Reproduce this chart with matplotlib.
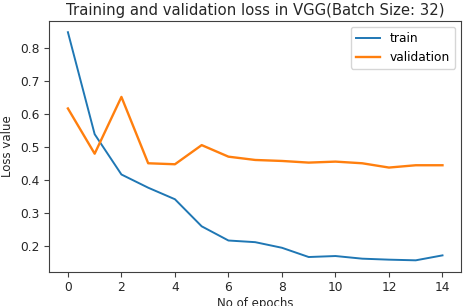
import matplotlib
matplotlib.use("Agg")
import matplotlib.pyplot as plt

epochs = list(range(15))
train_loss = [0.848, 0.539, 0.417, 0.377, 0.342, 0.260, 0.217, 0.212, 0.195,
              0.167, 0.170, 0.162, 0.159, 0.157, 0.172]
val_loss = [0.617, 0.480, 0.652, 0.451, 0.448, 0.506, 0.471, 0.461, 0.458,
            0.453, 0.456, 0.451, 0.438, 0.445, 0.445]

fig = plt.figure(figsize=(4.64, 3.06), dpi=100)
ax = fig.add_axes([0.106, 0.112, 0.888, 0.82])

ax.plot(epochs, train_loss, color="C0", lw=1.4, label="train")
ax.plot(epochs, val_loss, color="C1", lw=1.7, label="validation")

ax.set_title("Training and validation loss in VGG(Batch Size: 32)",
             fontsize=10.7, pad=4, color="#262626")
ax.set_xlabel("No of epochs", fontsize=8.5, labelpad=2, color="#262626")
ax.set_ylabel("Loss value", fontsize=8.5, labelpad=4, color="#262626")
ax.set_xticks(range(0, 15, 2))
ax.set_yticks([0.2, 0.3, 0.4, 0.5, 0.6, 0.7, 0.8])
ax.tick_params(labelsize=8.8, labelcolor="#262626", color="#404040")
for s in ax.spines.values():
    s.set_color("#404040")
ax.legend(loc="upper right", fontsize=8.8)

fig.savefig("out.png", dpi=100)
